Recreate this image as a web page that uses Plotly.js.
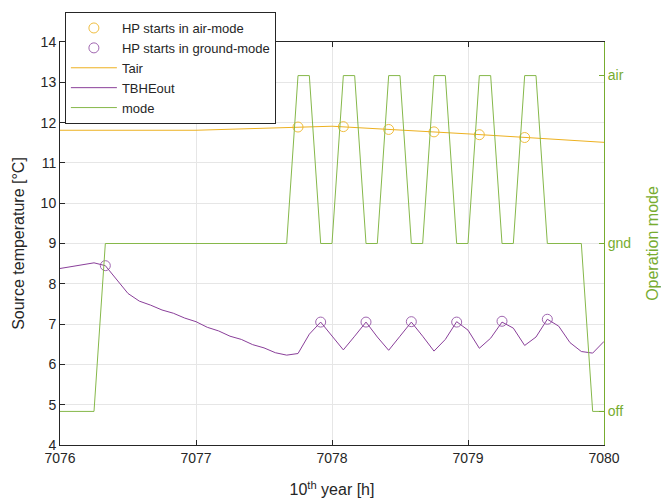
<!DOCTYPE html>
<html>
<head>
<meta charset="utf-8">
<script src="https://cdn.plot.ly/plotly-3.0.1.min.js"></script>
<style>html,body{margin:0;padding:0;background:#fff;}#chart{width:661px;height:501px;}</style>
</head>
<body>
<div id="chart"></div>
<script>
// hourly air temperature [°C], starting at hour 7076
const tairStart = 7076;
const tairValues = [11.81, 11.81, 11.91, 11.72, 11.51];

// 5-minute samples starting at hour 7076
const sampleStart = 7076;
const sampleStep = 1 / 12;
const tbheoutValues = [
  8.38, 8.43, 8.47, 8.52, 8.45, 8.11, 7.76, 7.57, 7.47, 7.35,
  7.27, 7.15, 7.06, 6.92, 6.83, 6.70, 6.62, 6.49, 6.41, 6.29,
  6.23, 6.27, 6.75, 7.05, 6.70, 6.36, 6.70, 7.05, 6.68, 6.35,
  6.70, 7.05, 6.70, 6.33, 6.62, 7.06, 6.85, 6.40, 6.65, 7.05,
  6.90, 6.47, 6.68, 7.12, 6.95, 6.54, 6.32, 6.28, 6.57
];
// operation mode: 0 = off, 1 = gnd, 2 = air
const modeValues = [
  0, 0, 0, 0,
  1, 1, 1, 1, 1, 1, 1, 1, 1, 1, 1, 1, 1, 1, 1, 1, 1,
  2, 2, 1, 1, 2, 2, 1, 1, 2, 2, 1, 1, 2, 2, 1, 1, 2, 2, 1, 1, 2, 2,
  1, 1, 1, 1,
  0, 0
];
const modeTickVals = [0, 1, 2];
const modeTickText = ['off', 'gnd', 'air'];

// heat pump start events
const airStartHours = [7077.75, 7078.0833, 7078.4167, 7078.75, 7079.0833, 7079.4167];
const airStartTemps = [11.89, 11.90, 11.83, 11.77, 11.70, 11.63];
const gndStartHours = [7076.3333, 7077.9167, 7078.25, 7078.5833, 7078.9167, 7079.25, 7079.5833];
const gndStartTemps = [8.45, 7.05, 7.05, 7.06, 7.05, 7.07, 7.12];

const xTicks = [7076, 7077, 7078, 7079, 7080];
const yTicks = [4, 5, 6, 7, 8, 9, 10, 11, 12, 13, 14];

const cAir = '#EDB120', cGnd = '#7E2F8E', cMode = '#77AC30', cText = '#262626';
const font = 'Liberation Sans, Arial, Helvetica, sans-serif';

const traces = [
  {x: airStartHours, y: airStartTemps, type: 'scatter', mode: 'markers', name: 'HP starts in air-mode',
   marker: {symbol: 'circle-open', size: 10, color: '#F0BE40', line: {width: 1, color: '#F0BE40'}}},
  {x: gndStartHours, y: gndStartTemps, type: 'scatter', mode: 'markers', name: 'HP starts in ground-mode',
   marker: {symbol: 'circle-open', size: 10, color: '#A066B0', line: {width: 1, color: '#A066B0'}}},
  {x0: tairStart, dx: 1, y: tairValues, type: 'scatter', mode: 'lines', name: 'Tair',
   line: {color: cAir, width: 1}},
  {x0: sampleStart, dx: sampleStep, y: tbheoutValues, type: 'scatter', mode: 'lines', name: 'TBHEout',
   line: {color: '#8A3F9A', width: 1}},
  {x0: sampleStart, dx: sampleStep, y: modeValues, type: 'scatter', mode: 'lines', name: 'mode', yaxis: 'y2',
   line: {color: '#86B84A', width: 1}}
];

const layout = {
  width: 661, height: 501,
  margin: {l: 60, r: 57, t: 42, b: 56},
  paper_bgcolor: '#fff', plot_bgcolor: '#fff',
  font: {family: font, size: 14, color: cText},
  showlegend: true,
  legend: {x: 0.009, y: 1.0744, xanchor: 'left', yanchor: 'top',
    bgcolor: '#fff', bordercolor: cText, borderwidth: 1, itemwidth: 46,
    font: {family: font, size: 13, color: cText}, tracegroupgap: 0},
  xaxis: {range: [7076, 7080], tickvals: xTicks, ticktext: xTicks.map(String),
    showline: true, linecolor: cText, linewidth: 1, mirror: 'ticks',
    ticks: 'inside', ticklen: 5, tickcolor: cText,
    showgrid: true, gridcolor: '#e6e6e6', zeroline: false,
    tickfont: {size: 14, color: cText},
    title: {text: '10<sup>th</sup> year [h]', font: {size: 16, color: cText}, standoff: 19}},
  yaxis: {range: [4, 14], tickvals: yTicks,
    showline: true, linecolor: cText, linewidth: 1, mirror: false,
    ticks: 'inside', ticklen: 5, tickcolor: cText,
    showgrid: true, gridcolor: '#e6e6e6', zeroline: false,
    tickfont: {size: 14, color: cText},
    title: {text: 'Source temperature [°C]', font: {size: 16, color: cText}, standoff: 12}},
  yaxis2: {overlaying: 'y', side: 'right', range: [-0.2, 2.2],
    tickvals: modeTickVals, ticktext: modeTickText,
    showline: true, linecolor: cMode, linewidth: 1,
    ticks: 'inside', ticklen: 5, tickcolor: cMode,
    showgrid: false, zeroline: false,
    tickfont: {size: 14, color: cMode},
    title: {text: 'Operation mode', font: {size: 16, color: cMode}, standoff: 23}}
};

Plotly.newPlot('chart', traces, layout, {displayModeBar: false, staticPlot: true});
</script>
</body>
</html>
